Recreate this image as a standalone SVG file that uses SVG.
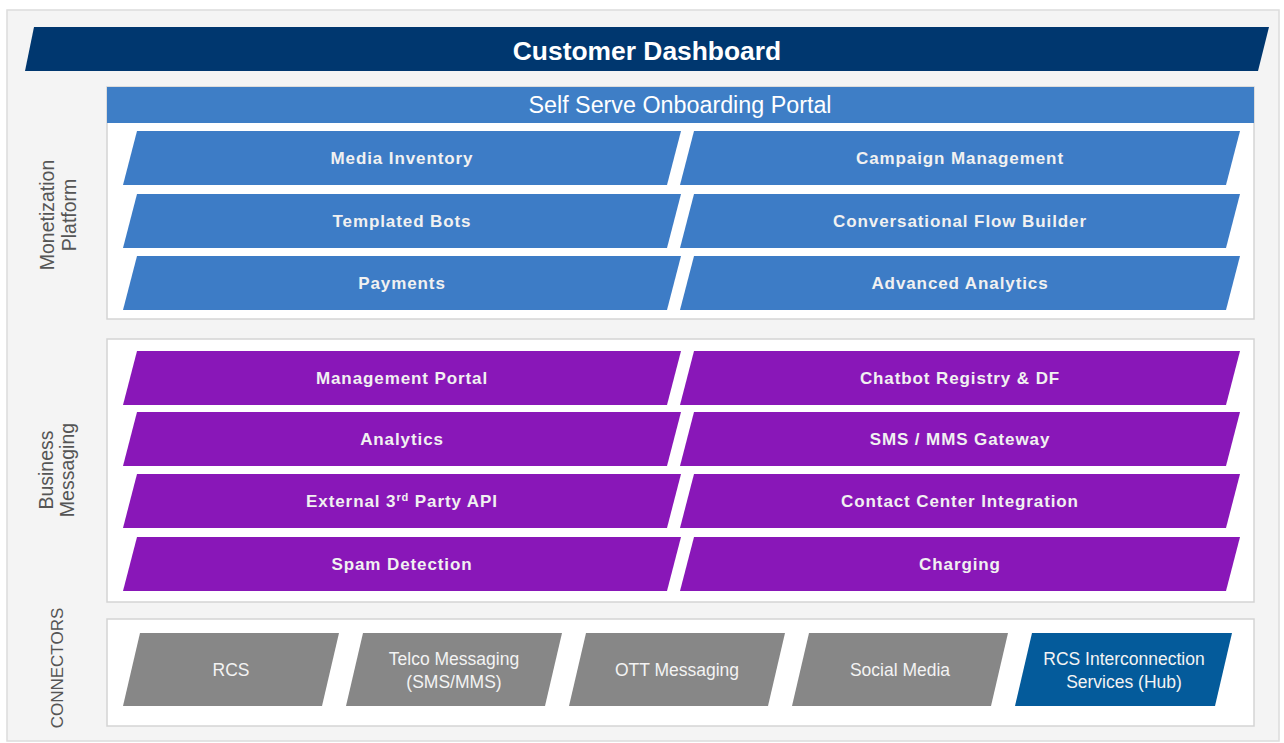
<svg xmlns="http://www.w3.org/2000/svg" width="1284" height="743" viewBox="0 0 1284 743">
<style>
.bg{fill:#f4f4f4;stroke:#dcdcdc;stroke-width:1.5}
.panel{fill:#ffffff;stroke:#d4d4d4;stroke-width:1.5}
.blue{fill:#3d7cc6}
.purple{fill:#8917b8}
.gray{fill:#878787}
.hub{fill:#045b9b}
.t{font-family:"Liberation Sans",Arial,sans-serif;font-size:17px;font-weight:bold;fill:#f1f1f1;text-anchor:middle;letter-spacing:0.9px}
.c{font-family:"Liberation Sans",Arial,sans-serif;font-size:17.5px;fill:#f3f3f3;text-anchor:middle}
.side{font-family:"Liberation Sans",Arial,sans-serif;font-size:19.5px;fill:#555555;text-anchor:middle}
</style>
<rect class="bg" x="7" y="10" width="1272" height="731"/>

<g id="customer-dashboard">
<polygon points="34,27 1269,27 1258,71 25,71" fill="#00376f"/>
<text x="647" y="60" font-family="Liberation Sans,Arial,sans-serif" font-size="26.4px" font-weight="bold" fill="#ffffff" text-anchor="middle">Customer Dashboard</text>
</g>

<g id="monetization-platform">
<rect class="panel" x="107" y="87" width="1147" height="232"/>
<text class="side" transform="translate(54,215) rotate(-90)">Monetization</text>
<text class="side" transform="translate(76,215) rotate(-90)">Platform</text>
</g>
<g id="self-serve-portal">
<rect x="107" y="87" width="1147" height="36" fill="#3e7ec6"/>
<text x="680" y="113" font-family="Liberation Sans,Arial,sans-serif" font-size="23.3px" fill="#ffffff" text-anchor="middle">Self Serve Onboarding Portal</text>
</g>
<g id="media-inventory"><polygon class="blue" points="137,131 681,131 667,185 123,185"/><text class="t" x="402" y="164">Media Inventory</text></g>
<g id="campaign-management"><polygon class="blue" points="694,131 1240,131 1226,185 680,185"/><text class="t" x="960" y="164">Campaign Management</text></g>
<g id="templated-bots"><polygon class="blue" points="137,194 681,194 667,248 123,248"/><text class="t" x="402" y="227">Templated Bots</text></g>
<g id="conversational-flow-builder"><polygon class="blue" points="694,194 1240,194 1226,248 680,248"/><text class="t" x="960" y="227">Conversational Flow Builder</text></g>
<g id="payments"><polygon class="blue" points="137,256 681,256 667,310 123,310"/><text class="t" x="402" y="289">Payments</text></g>
<g id="advanced-analytics"><polygon class="blue" points="694,256 1240,256 1226,310 680,310"/><text class="t" x="960" y="289">Advanced Analytics</text></g>

<g id="business-messaging">
<rect class="panel" x="107" y="339" width="1147" height="263"/>
<text class="side" transform="translate(53,470) rotate(-90)">Business</text>
<text class="side" transform="translate(74,470) rotate(-90)">Messaging</text>
</g>
<g id="management-portal"><polygon class="purple" points="137,351 681,351 667,405 123,405"/><text class="t" x="402" y="384">Management Portal</text></g>
<g id="chatbot-registry"><polygon class="purple" points="694,351 1240,351 1226,405 680,405"/><text class="t" x="960" y="384">Chatbot Registry &amp; DF</text></g>
<g id="analytics"><polygon class="purple" points="137,412 681,412 667,466 123,466"/><text class="t" x="402" y="445">Analytics</text></g>
<g id="sms-mms-gateway"><polygon class="purple" points="694,412 1240,412 1226,466 680,466"/><text class="t" x="960" y="445">SMS / MMS Gateway</text></g>
<g id="external-api"><polygon class="purple" points="137,474 681,474 667,528 123,528"/><text class="t" x="402" y="507">External 3<tspan font-size="11px" dy="-6">rd</tspan><tspan dy="6"> Party API</tspan></text></g>
<g id="contact-center-integration"><polygon class="purple" points="694,474 1240,474 1226,528 680,528"/><text class="t" x="960" y="507">Contact Center Integration</text></g>
<g id="spam-detection"><polygon class="purple" points="137,537 681,537 667,591 123,591"/><text class="t" x="402" y="570">Spam Detection</text></g>
<g id="charging"><polygon class="purple" points="694,537 1240,537 1226,591 680,591"/><text class="t" x="960" y="570">Charging</text></g>

<g id="connectors-panel">
<rect class="panel" x="107" y="619" width="1147" height="107"/>
<text class="side" style="font-size:17px" transform="translate(63,668) rotate(-90)">CONNECTORS</text>
</g>
<g id="rcs"><polygon class="gray" points="140,633 339,633 322,706 123,706"/><text class="c" x="231" y="676">RCS</text></g>
<g id="telco-messaging"><polygon class="gray" points="363,633 562,633 545,706 346,706"/><text class="c" x="454" y="665">Telco Messaging</text><text class="c" x="454" y="688">(SMS/MMS)</text></g>
<g id="ott-messaging"><polygon class="gray" points="586,633 785,633 768,706 569,706"/><text class="c" x="677" y="676">OTT Messaging</text></g>
<g id="social-media"><polygon class="gray" points="809,633 1008,633 991,706 792,706"/><text class="c" x="900" y="676">Social Media</text></g>
<g id="rcs-hub"><polygon class="hub" points="1032,633 1232,633 1215,706 1015,706"/><text class="c" x="1124" y="665">RCS Interconnection</text><text class="c" x="1124" y="688">Services (Hub)</text></g>

<g id="connectors"></g>
</svg>
